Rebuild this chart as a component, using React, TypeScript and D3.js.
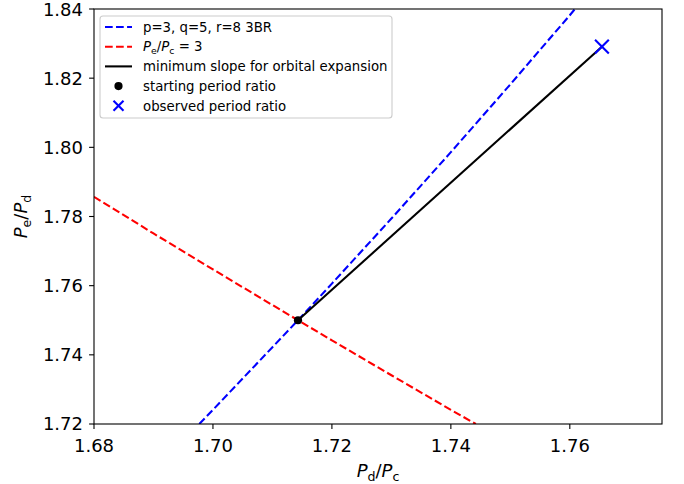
import React from "react";
import * as d3 from "d3";

// Data
const xDomain = [1.68, 1.7755];
const yDomain = [1.72, 1.84];
const xTicks = [1.68, 1.70, 1.72, 1.74, 1.76];
const yTicks = [1.72, 1.74, 1.76, 1.78, 1.80, 1.82, 1.84];

// p=3, q=5, r=8 three-body resonance curve
const resX = [1.6977, 1.70, 1.71, 1.7143, 1.72, 1.73, 1.74, 1.75, 1.76, 1.7609];
const resY = [1.72, 1.7241, 1.7422, 1.75, 1.7606, 1.7794, 1.7986, 1.8182, 1.8382, 1.8401];

// Pe/Pc = 3 curve
const ratioX = [1.68, 1.69, 1.70, 1.71, 1.7143, 1.72, 1.73, 1.74, 1.7442];
const ratioY = [1.7857, 1.7751, 1.7647, 1.7544, 1.75, 1.7442, 1.7341, 1.7241, 1.72];

// minimum slope line
const slopeX = [1.7143, 1.7654];
const slopeY = [1.75, 1.8291];

const startX = [1.7143];
const startY = [1.75];
const obsX = [1.7654];
const obsY = [1.8291];

const W = 684;
const H = 484;
const L = 94, R = 662, T = 9, B = 424;
const FONT = "DejaVu Sans, sans-serif";
const LW = 2.08;
const DASH = "7.7,3.33";

export default function App() {
  const x = d3.scaleLinear().domain(xDomain).range([L, R]);
  const y = d3.scaleLinear().domain(yDomain).range([B, T]);
  const line = d3.line<[number, number]>().x(d => x(d[0])).y(d => y(d[1]));
  const zip = (a: number[], b: number[]) => a.map((v, i) => [v, b[i]] as [number, number]);

  const legendRows = [
    { kind: "dash", color: "#0000ff" },
    { kind: "dash", color: "#ff0000" },
    { kind: "solid", color: "#000000" },
    { kind: "dot", color: "#000000" },
    { kind: "x", color: "#0000ff" },
  ];
  const lgX = 100, lgY = 16, lgW = 292, lgH = 102;
  const rowY = (i: number) => 27 + i * 19.7;
  const hx0 = 105, hx1 = 132, tx = 143;
  const fs = 13.3;

  const xMark = (cx: number, cy: number, s: number, color: string) => (
    <g stroke={color} strokeWidth={2.08}>
      <line x1={cx - s} y1={cy - s} x2={cx + s} y2={cy + s} />
      <line x1={cx - s} y1={cy + s} x2={cx + s} y2={cy - s} />
    </g>
  );

  return (
    <svg width={W} height={H} style={{ display: "block", position: "absolute", left: 0, top: 0, background: "#fff" }} fontFamily={FONT}>
      <defs>
        <clipPath id="plotclip">
          <rect x={L} y={T} width={R - L} height={B - T} />
        </clipPath>
      </defs>
      <rect x={0} y={0} width={W} height={H} fill="#fff" />
      <g clipPath="url(#plotclip)" fill="none">
        <path d={line(zip(resX, resY)) || ""} stroke="#0000ff" strokeWidth={LW} strokeDasharray={DASH} />
        <path d={line(zip(ratioX, ratioY)) || ""} stroke="#ff0000" strokeWidth={LW} strokeDasharray={DASH} />
        <path d={line(zip(slopeX, slopeY)) || ""} stroke="#000000" strokeWidth={LW} />
      </g>
      {startX.map((v, i) => (
        <circle key={"s" + i} cx={x(v)} cy={y(startY[i])} r={4.1} fill="#000" />
      ))}
      {obsX.map((v, i) => (
        <g key={"o" + i}>{xMark(x(v), y(obsY[i]), 6.9, "#0000ff")}</g>
      ))}
      {/* frame */}
      <rect x={L} y={T} width={R - L} height={B - T} fill="none" stroke="#000" strokeWidth={1.1} />
      {/* x ticks */}
      {xTicks.map(t => (
        <g key={"xt" + t}>
          <line x1={x(t)} x2={x(t)} y1={B} y2={B + 4.9} stroke="#000" strokeWidth={1.1} />
          <text x={x(t)} y={452} textAnchor="middle" fontSize={18} fill="#000">{t.toFixed(2)}</text>
        </g>
      ))}
      {yTicks.map(t => (
        <g key={"yt" + t}>
          <line x1={L - 4.9} x2={L} y1={y(t)} y2={y(t)} stroke="#000" strokeWidth={1.1} />
          <text x={83} y={Math.max(y(t), 10)} dy="0.36em" textAnchor="end" fontSize={18} fill="#000">{t.toFixed(2)}</text>
        </g>
      ))}
      {/* axis labels */}
      <text x={(L + R) / 2} y={477} textAnchor="middle" fontSize={18} fill="#000">
        <tspan fontStyle="italic">P</tspan>
        <tspan fontSize={12.6} dy={3.5}>d</tspan>
        <tspan dy={-3.5}>/</tspan>
        <tspan fontStyle="italic">P</tspan>
        <tspan fontSize={12.6} dy={3.5}>c</tspan>
      </text>
      <text transform={`translate(27,${(T + B) / 2}) rotate(-90)`} textAnchor="middle" fontSize={18} fill="#000">
        <tspan fontStyle="italic">P</tspan>
        <tspan fontSize={12.6} dy={3.5}>e</tspan>
        <tspan dy={-3.5}>/</tspan>
        <tspan fontStyle="italic">P</tspan>
        <tspan fontSize={12.6} dy={3.5}>d</tspan>
      </text>
      {/* legend */}
      <rect x={lgX} y={lgY} width={lgW} height={lgH} rx={3} ry={3} fill="#fff" fillOpacity={0.8} stroke="#cccccc" strokeWidth={1.1} />
      {legendRows.map((r, i) => {
        const cy = rowY(i);
        const cx = (hx0 + hx1) / 2;
        let handle: React.ReactNode = null;
        if (r.kind === "dash") handle = <line x1={hx0} x2={hx1} y1={cy} y2={cy} stroke={r.color} strokeWidth={LW} strokeDasharray={DASH} />;
        else if (r.kind === "solid") handle = <line x1={hx0} x2={hx1} y1={cy} y2={cy} stroke={r.color} strokeWidth={LW} />;
        else if (r.kind === "dot") handle = <circle cx={cx} cy={cy} r={4.1} fill={r.color} />;
        else handle = xMark(cx, cy, 5, r.color);
        return <g key={"lg" + i}>{handle}</g>;
      })}
      <text x={tx} y={rowY(0)} dy="0.36em" fontSize={fs} fill="#000">p=3, q=5, r=8 3BR</text>
      <text x={tx} y={rowY(1)} dy="0.36em" fontSize={fs} fill="#000">
        <tspan fontStyle="italic">P</tspan>
        <tspan fontSize={9.3} dy={2.6}>e</tspan>
        <tspan dy={-2.6}>/</tspan>
        <tspan fontStyle="italic">P</tspan>
        <tspan fontSize={9.3} dy={2.6}>c</tspan>
        <tspan dy={-2.6}> = 3</tspan>
      </text>
      <text x={tx} y={rowY(2)} dy="0.36em" fontSize={fs} fill="#000">minimum slope for orbital expansion</text>
      <text x={tx} y={rowY(3)} dy="0.36em" fontSize={fs} fill="#000">starting period ratio</text>
      <text x={tx} y={rowY(4)} dy="0.36em" fontSize={fs} fill="#000">observed period ratio</text>
    </svg>
  );
}
